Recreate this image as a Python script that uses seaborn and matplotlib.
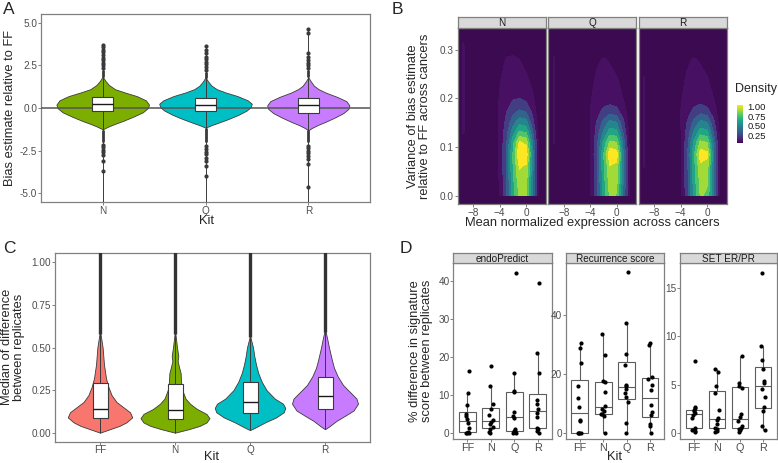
import numpy as np
import pandas as pd
import matplotlib
matplotlib.use("Agg")
import matplotlib.pyplot as plt
import seaborn as sns
from matplotlib.colors import Normalize
from matplotlib.cm import ScalarMappable
from matplotlib.ticker import FormatStrFormatter

sns.set_theme(style="white")
plt.rcParams['font.family'] = ['Liberation Sans', 'DejaVu Sans']

kit_colors = {"FF": "#F8766D", "N": "#7CAE00", "Q": "#00BFC4", "R": "#C77CFF"}

# ---------- A: bias relative to FF (violin outline) ----------
kits_a = ["N", "Q", "R"]
a_violin_y = {
    "N": [-1.25, -1.1, -0.95, -0.75, -0.5, -0.25, 0.0, 0.2, 0.45, 0.7, 0.9, 1.1, 1.35, 1.6, 1.85],
    "Q": [-1.15, -1.0, -0.85, -0.65, -0.4, -0.15, 0.05, 0.25, 0.45, 0.7, 0.9, 1.1, 1.3, 1.55, 1.8],
    "R": [-1.3, -1.15, -1.0, -0.8, -0.55, -0.3, -0.05, 0.15, 0.4, 0.65, 0.9, 1.1, 1.3, 1.55, 1.8],
}
a_violin_w = {
    "N": [0.0, 0.05, 0.11, 0.2, 0.3, 0.39, 0.44, 0.45, 0.42, 0.33, 0.22, 0.12, 0.06, 0.025, 0.0],
    "Q": [0.0, 0.06, 0.13, 0.22, 0.32, 0.4, 0.44, 0.45, 0.41, 0.31, 0.2, 0.11, 0.06, 0.025, 0.0],
    "R": [0.0, 0.04, 0.09, 0.17, 0.26, 0.34, 0.39, 0.4, 0.37, 0.28, 0.17, 0.1, 0.055, 0.025, 0.0],
}
a_box = {"N": (-0.16, 0.23, 0.62), "Q": (-0.16, 0.2, 0.57), "R": (-0.27, 0.18, 0.57)}
a_line = {"N": (-5.5, 3.7), "Q": (-5.5, 3.6), "R": (-5.5, 4.6)}
a_dense = {"N": [(-2.0, -1.3), (1.8, 2.2)], "Q": [(-2.0, -1.15), (1.75, 2.1)], "R": [(-2.0, -1.3), (1.8, 2.2)]}
a_outliers = {
    "N": [2.35, 2.5, 2.65, 2.8, 2.95, 3.1, 3.25, 3.4, 3.55, 3.7, -2.15, -2.3, -2.45, -2.6, -2.75, -3.1, -3.7],
    "Q": [2.25, 2.4, 2.55, 2.7, 2.85, 3.0, 3.2, 3.4, 3.6, -2.2, -2.4, -2.55, -2.7, -2.9, -3.1, -3.4, -4.0],
    "R": [2.35, 2.5, 2.65, 2.8, 3.0, 3.2, 4.4, 4.6, -2.2, -2.35, -2.5, -2.65, -2.8, -3.0, -3.3, -4.6],
}

# ---------- B: normalised 2d density on a coarse grid ----------
b_x = [-10.3, -9.5, -8.7, -5, -4, -3, -2, -1, 0, 1, 2, 3]
b_y = [0, 0.03, 0.06, 0.085, 0.11, 0.13, 0.15, 0.175, 0.2, 0.24, 0.28, 0.31, 0.345]
dens_N = [
    [0, 0, 0, 0.02, 0.12, 0.30, 0.60, 0.80, 0.78, 0.42, 0.05, 0],
    [0, 0, 0, 0.02, 0.12, 0.31, 0.63, 0.85, 0.82, 0.45, 0.05, 0],
    [0, 0, 0, 0.02, 0.13, 0.33, 0.66, 0.90, 0.87, 0.47, 0.05, 0],
    [0, 0, 0, 0.02, 0.13, 0.33, 0.67, 1.00, 0.97, 0.48, 0.05, 0],
    [0, 0.06, 0, 0.02, 0.13, 0.31, 0.62, 0.90, 0.86, 0.43, 0.05, 0],
    [0.05, 0.12, 0.05, 0.02, 0.13, 0.28, 0.50, 0.69, 0.66, 0.34, 0.04, 0],
    [0.05, 0.13, 0.05, 0.02, 0.13, 0.25, 0.40, 0.52, 0.49, 0.26, 0.04, 0],
    [0.05, 0.13, 0.05, 0.02, 0.13, 0.21, 0.29, 0.34, 0.31, 0.18, 0.03, 0],
    [0.05, 0.13, 0.05, 0.02, 0.12, 0.17, 0.21, 0.22, 0.19, 0.13, 0.02, 0],
    [0.05, 0.13, 0.05, 0.01, 0.10, 0.15, 0.16, 0.15, 0.13, 0.08, 0, 0],
    [0.05, 0.13, 0.05, 0, 0.05, 0.12, 0.13, 0.11, 0.07, 0.02, 0, 0],
    [0.05, 0.12, 0.05, 0, 0.01, 0.05, 0.06, 0.04, 0.01, 0, 0, 0],
    [0, 0.05, 0, 0, 0, 0, 0, 0, 0, 0, 0, 0],
]
dens_Q = [
    [0, 0, 0, 0.02, 0.10, 0.28, 0.58, 0.80, 0.77, 0.42, 0.08, 0],
    [0, 0, 0, 0.02, 0.10, 0.29, 0.61, 0.84, 0.81, 0.44, 0.08, 0],
    [0, 0, 0, 0.02, 0.10, 0.30, 0.63, 0.88, 0.85, 0.45, 0.08, 0],
    [0, 0.05, 0, 0.02, 0.10, 0.31, 0.65, 0.98, 0.95, 0.46, 0.08, 0],
    [0.05, 0.12, 0.05, 0.02, 0.10, 0.29, 0.58, 0.80, 0.77, 0.40, 0.07, 0],
    [0.05, 0.12, 0.05, 0.02, 0.10, 0.26, 0.46, 0.62, 0.59, 0.32, 0.06, 0],
    [0.05, 0.12, 0.05, 0.02, 0.11, 0.23, 0.37, 0.48, 0.45, 0.25, 0.05, 0],
    [0.05, 0.12, 0.05, 0.02, 0.11, 0.18, 0.24, 0.27, 0.25, 0.16, 0.04, 0],
    [0.05, 0.12, 0.05, 0.01, 0.10, 0.15, 0.17, 0.17, 0.15, 0.11, 0.02, 0],
    [0.05, 0.12, 0.05, 0, 0.07, 0.13, 0.14, 0.14, 0.12, 0.07, 0, 0],
    [0.05, 0.12, 0.05, 0, 0.02, 0.09, 0.12, 0.10, 0.06, 0.01, 0, 0],
    [0, 0.08, 0, 0, 0, 0.02, 0.03, 0.02, 0, 0, 0, 0],
    [0, 0, 0, 0, 0, 0, 0, 0, 0, 0, 0, 0],
]
dens_R = [
    [0, 0, 0, 0.02, 0.10, 0.28, 0.58, 0.79, 0.76, 0.42, 0.09, 0],
    [0, 0, 0, 0.02, 0.10, 0.29, 0.60, 0.82, 0.79, 0.44, 0.09, 0],
    [0.05, 0.12, 0.05, 0.02, 0.10, 0.30, 0.62, 0.86, 0.83, 0.45, 0.09, 0],
    [0.05, 0.12, 0.05, 0.02, 0.10, 0.31, 0.64, 0.95, 0.92, 0.46, 0.08, 0],
    [0.05, 0.12, 0.05, 0.02, 0.10, 0.29, 0.57, 0.80, 0.77, 0.40, 0.07, 0],
    [0.05, 0.12, 0.05, 0.02, 0.10, 0.26, 0.46, 0.62, 0.59, 0.32, 0.06, 0],
    [0.05, 0.12, 0.05, 0.02, 0.11, 0.23, 0.37, 0.48, 0.45, 0.25, 0.05, 0],
    [0.05, 0.12, 0.05, 0.02, 0.11, 0.18, 0.24, 0.28, 0.25, 0.16, 0.04, 0],
    [0.05, 0.12, 0.05, 0.01, 0.10, 0.15, 0.17, 0.17, 0.15, 0.11, 0.02, 0],
    [0.05, 0.12, 0.05, 0, 0.07, 0.13, 0.14, 0.14, 0.12, 0.07, 0, 0],
    [0, 0.05, 0, 0, 0.02, 0.09, 0.12, 0.10, 0.06, 0.01, 0, 0],
    [0, 0, 0, 0, 0, 0.02, 0.03, 0.02, 0, 0, 0, 0],
    [0, 0, 0, 0, 0, 0, 0, 0, 0, 0, 0, 0],
]
b_density = {"N": dens_N, "Q": dens_Q, "R": dens_R}
b_levels = [0.111, 0.222, 0.333, 0.444, 0.556, 0.667, 0.778, 0.889, 1.05]

# ---------- C: median difference between replicates ----------
kits_c = ["FF", "N", "Q", "R"]
c_violin_y = {
    "FF": [0.0, 0.02, 0.04, 0.06, 0.09, 0.12, 0.15, 0.18, 0.22, 0.27, 0.32, 0.4, 0.5, 0.6],
    "N": [0.0, 0.02, 0.04, 0.06, 0.085, 0.11, 0.14, 0.17, 0.2, 0.25, 0.3, 0.35, 0.38, 0.42, 0.45, 0.5, 0.6],
    "Q": [0.015, 0.03, 0.06, 0.09, 0.12, 0.145, 0.17, 0.2, 0.25, 0.3, 0.35, 0.4, 0.45, 0.5, 0.57],
    "R": [0.02, 0.04, 0.07, 0.1, 0.13, 0.17, 0.2, 0.24, 0.28, 0.33, 0.38, 0.43, 0.5, 0.55, 0.61],
}
c_violin_w = {
    "FF": [0.0, 0.13, 0.26, 0.35, 0.43, 0.40, 0.31, 0.22, 0.155, 0.11, 0.08, 0.053, 0.035, 0.0],
    "N": [0.0, 0.18, 0.33, 0.42, 0.46, 0.42, 0.29, 0.2, 0.14, 0.097, 0.08, 0.075, 0.057, 0.035, 0.044, 0.027, 0.0],
    "Q": [0.0, 0.07, 0.2, 0.35, 0.45, 0.47, 0.44, 0.33, 0.22, 0.155, 0.11, 0.08, 0.057, 0.04, 0.0],
    "R": [0.0, 0.066, 0.155, 0.27, 0.38, 0.44, 0.42, 0.33, 0.24, 0.17, 0.12, 0.09, 0.053, 0.03, 0.0],
}
c_box = {"FF": (0.084, 0.137, 0.29), "N": (0.08, 0.133, 0.286), "Q": (0.117, 0.178, 0.295), "R": (0.141, 0.217, 0.325)}
c_line = {"FF": (0.0, 1.1), "N": (0.0, 1.1), "Q": (0.015, 1.1), "R": (0.02, 1.1)}
c_tail = {"FF": 0.58, "N": 0.58, "Q": 0.56, "R": 0.59}

# ---------- D: % difference in signature score ----------
d_signatures = ["endoPredict", "Recurrence score", "SET ER/PR"]
d_kits = ["FF", "N", "Q", "R"]
endo_FF = [0, 0, 0, 0.2, 1.2, 2.6, 3.6, 4.4, 4.8, 7.3, 10.4, 16.4]
endo_N = [0, 0.2, 0.8, 1.4, 2.2, 2.8, 3.2, 4.6, 6.2, 7.6, 12.4, 17.6]
endo_Q = [0, 0, 0.3, 0.5, 1.0, 3.9, 4.5, 5.3, 10.6, 10.9, 15.8, 42.3]
endo_R = [0, 0.3, 0.8, 1.2, 4.2, 5.2, 6.2, 7.6, 8.5, 15.8, 21.0, 39.7]
rec_FF = [0, 0, 0, 0, 3.8, 4.4, 8.8, 11.7, 15.9, 23.8, 29.0, 30.6]
rec_N = [0, 5.8, 6.2, 6.4, 7.2, 8.2, 9.0, 13.9, 17.3, 17.6, 26.4, 33.6]
rec_Q = [0, 3.4, 10.5, 12.0, 13.5, 15.0, 15.8, 16.4, 23.0, 26.8, 37.5, 54.8]
rec_R = [0, 2.4, 2.8, 6.0, 7.1, 9.4, 14.5, 16.4, 18.3, 19.0, 29.8, 30.6]
set_FF = [0.2, 0.3, 0.4, 0.6, 1.6, 1.9, 2.1, 2.3, 2.4, 2.6, 2.7, 7.5]
set_N = [0.1, 0.3, 0.5, 0.6, 1.0, 1.4, 1.6, 2.4, 4.2, 4.9, 6.3, 6.6]
set_Q = [0.1, 0.4, 0.5, 0.6, 0.8, 1.3, 1.7, 2.0, 4.7, 4.9, 5.2, 8.0]
set_R = [0.4, 0.8, 2.3, 2.7, 3.7, 4.6, 5.2, 5.4, 6.6, 7.6, 9.0, 16.5]
d_values = {
    "endoPredict": [endo_FF, endo_N, endo_Q, endo_R],
    "Recurrence score": [rec_FF, rec_N, rec_Q, rec_R],
    "SET ER/PR": [set_FF, set_N, set_Q, set_R],
}
d_ylim = {"endoPredict": (-1.8, 44.8), "Recurrence score": (-2.3, 57.8), "SET ER/PR": (-0.6, 17.5)}
d_yticks = {"endoPredict": [0, 10, 20, 30, 40], "Recurrence score": [0, 20, 40], "SET ER/PR": [0, 5, 10, 15]}

rows = []
for sig in d_signatures:
    for kit, vals in zip(d_kits, d_values[sig]):
        for v in vals:
            rows.append({"signature": sig, "kit": kit, "value": v})
df_d = pd.DataFrame(rows)

# ---------- layout helpers (pixel boxes on a 778x463 canvas) ----------
W, H = 778, 463
fig = plt.figure(figsize=(W / 100, H / 100), dpi=100)
border = "#808080"
tick_txt = "#4d4d4d"


def add_ax(l, t, r, b):
    return fig.add_axes([l / W, 1 - b / H, (r - l) / W, (b - t) / H])


def put(x, y, s, **kw):
    fig.text(x / W, 1 - y / H, s, **kw)


def style(ax):
    for sp in ax.spines.values():
        sp.set_visible(True)
        sp.set_color(border)
        sp.set_linewidth(0.9)
    ax.tick_params(axis="both", which="both", direction="out", length=2.0, width=0.7,
                   color=border, labelcolor=tick_txt, labelsize=7.2, pad=0.6,
                   left=True, bottom=True)
    ax.set_xlabel("")
    ax.set_ylabel("")
    ax.grid(False)


def strip(l, t, r, b, label):
    s = add_ax(l, t, r, b)
    s.set_facecolor("#d9d9d9")
    s.set_xticks([])
    s.set_yticks([])
    for sp in s.spines.values():
        sp.set_color(border)
        sp.set_linewidth(0.9)
    s.text(0.5, 0.45, label, transform=s.transAxes, ha="center", va="center",
           fontsize=7.2, color="#1a1a1a")


def violin_panel(ax, kits, vy, vw, boxes):
    for i, k in enumerate(kits):
        pos = i + 1
        y = np.array(vy[k])
        w = np.array(vw[k])
        ax.fill_betweenx(y, pos - w, pos + w, facecolor=kit_colors[k],
                         edgecolor="#3a3a3a", linewidth=0.6, zorder=2)
        q1, med, q3 = boxes[k]
        ax.bxp([dict(med=med, q1=q1, q3=q3, whislo=q1, whishi=q3, fliers=[])],
               positions=[pos], widths=0.2, patch_artist=True, showfliers=False,
               showcaps=False, manage_ticks=False, zorder=5,
               boxprops=dict(facecolor="white", edgecolor="#3a3a3a", linewidth=0.8),
               medianprops=dict(color="#1a1a1a", linewidth=1.0),
               whiskerprops=dict(linewidth=0))


# ---------------- panel A ----------------
axA = add_ax(41, 14, 370, 202)
style(axA)
for i, k in enumerate(kits_a):
    pos = i + 1
    axA.vlines(pos, *a_line[k], color="#3a3a3a", lw=0.7, zorder=3)
    for lo, hi in a_dense[k]:
        axA.vlines(pos, lo, hi, color="#3a3a3a", lw=2.0, zorder=3)
    axA.plot([pos] * len(a_outliers[k]), a_outliers[k], "o", ms=2.0,
             color="#3a3a3a", zorder=3)
violin_panel(axA, kits_a, a_violin_y, a_violin_w, a_box)
axA.axhline(0, color="#555555", lw=1.1, zorder=4)
axA.set_xlim(0.4, 3.6)
axA.set_ylim(-5.5, 5.5)
axA.set_xticks([1, 2, 3])
axA.set_xticklabels(kits_a)
axA.set_yticks([-5, -2.5, 0, 2.5, 5])
axA.yaxis.set_major_formatter(FormatStrFormatter("%.1f"))
put(10, 108, "Bias estimate relative to FF", rotation=90, ha="center", va="center", fontsize=9.3)
put(206, 221, "Kit", ha="center", va="center", fontsize=9.3)

# ---------------- panel B ----------------
b_bg = "#3c0a50"
b_colors = [plt.cm.viridis(v) for v in np.linspace(0.04, 1.0, 8)]
for j, k in enumerate(kits_a):
    left = 457.7 + j * 90.5
    ax = add_ax(left, 27.7, left + 88.2, 204)
    style(ax)
    ax.set_facecolor(b_bg)
    ax.contourf(b_x, b_y, np.array(b_density[k]), levels=b_levels, colors=b_colors, zorder=1)
    ax.set_xlim(-10.35, 3.0)
    ax.set_ylim(-0.017, 0.345)
    ax.set_xticks([-8, -4, 0])
    ax.set_yticks([0, 0.1, 0.2, 0.3])
    ax.yaxis.set_major_formatter(FormatStrFormatter("%.1f"))
    if j > 0:
        ax.tick_params(axis="y", left=False, labelleft=False)
    strip(left, 16.7, left + 88.2, 27.7, k)

put(419, 116, "Variance of bias estimate\nrelative to FF across cancers", rotation=90,
    ha="center", va="center", fontsize=9.3, linespacing=1.1)
put(592, 223, "Mean normalized expression across cancers", ha="center", va="center", fontsize=9.3)

cax = add_ax(736.7, 105, 742.7, 143)
cb = fig.colorbar(ScalarMappable(norm=Normalize(0.06, 1.04), cmap="viridis"), cax=cax,
                  ticks=[0.25, 0.5, 0.75, 1.0])
cb.ax.set_yticklabels(["0.25", "0.50", "0.75", "1.00"])
cb.outline.set_visible(False)
cb.ax.tick_params(length=1.5, width=0.6, color="white", labelsize=6.8, pad=2, labelcolor="#1a1a1a")
put(735, 89, "Density", ha="left", va="center", fontsize=9)

# ---------------- panel C ----------------
axC = add_ax(55, 253.3, 370, 441.7)
style(axC)
for i, k in enumerate(kits_c):
    pos = i + 1
    axC.vlines(pos, *c_line[k], color="#3a3a3a", lw=0.7, zorder=3)
    axC.vlines(pos, c_tail[k], c_line[k][1], color="#333333", lw=2.4, zorder=3)
violin_panel(axC, kits_c, c_violin_y, c_violin_w, c_box)
axC.set_xlim(0.4, 4.6)
axC.set_ylim(-0.053, 1.053)
axC.set_xticks([1, 2, 3, 4])
axC.set_xticklabels(kits_c)
axC.set_yticks([0, 0.25, 0.5, 0.75, 1.0])
axC.yaxis.set_major_formatter(FormatStrFormatter("%.2f"))
put(13, 347, "Median of difference\nbetween replicates", rotation=90, ha="center",
    va="center", fontsize=9.3, linespacing=1.1)
put(212, 457, "Kit", ha="center", va="center", fontsize=9.3)

# ---------------- panel D ----------------
np.random.seed(7)
d_lefts = [453.3, 565.7, 680.0]
d_rights = [551.7, 664.0, 777.0]
for k, sig in enumerate(d_signatures):
    ax = add_ax(d_lefts[k], 263.3, d_rights[k], 439.3)
    sub = df_d[df_d["signature"] == sig]
    sns.boxplot(data=sub, x="kit", y="value", order=d_kits, color="white",
                linecolor="#5c5c5c", linewidth=0.8, width=0.72, showfliers=False,
                showcaps=False, ax=ax)
    sns.stripplot(data=sub, x="kit", y="value", order=d_kits, color="black",
                  size=3.0, jitter=0.09, ax=ax, zorder=4)
    style(ax)
    ax.set_xlim(-0.6, 3.6)
    ax.set_ylim(*d_ylim[sig])
    ax.set_yticks(d_yticks[sig])
    ax.tick_params(axis="x", labelsize=7.8)
    strip(d_lefts[k], 253.3, d_rights[k], 263.3, sig)

put(421, 351, "% difference in signature\nscore between replicates", rotation=90,
    ha="center", va="center", fontsize=9.3, linespacing=1.1)
put(615, 457, "Kit", ha="center", va="center", fontsize=9.3)

# ---------------- panel letters ----------------
for x, y, s in [(3, 9, "A"), (392, 9, "B"), (3, 249, "C"), (400, 249, "D")]:
    put(x, y, s, ha="left", va="center", fontsize=12.5)

fig.savefig("out.png", dpi=100, facecolor="white")
